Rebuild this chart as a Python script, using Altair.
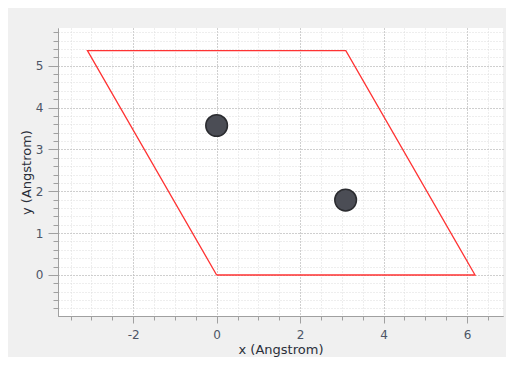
import altair as alt
import pandas as pd

# unit cell outline (closed path)
cell_x = [0.0, 6.19, 3.095, -3.095, 0.0]
cell_y = [0.0, 0.0, 5.36, 5.36, 0.0]
cell_order = [0, 1, 2, 3, 4]

# atoms
atom_x = [0.0, 3.09]
atom_y = [3.57, 1.79]

x_major = [-2, 0, 2, 4, 6]
y_major = [0, 1, 2, 3, 4, 5]
x_minor = [-3.5, -3, -2.5, -2, -1.5, -1, -0.5, 0, 0.5, 1, 1.5, 2, 2.5, 3, 3.5, 4, 4.5, 5, 5.5, 6, 6.5]
y_minor = [-0.8, -0.6, -0.4, -0.2, 0, 0.2, 0.4, 0.6, 0.8, 1, 1.2, 1.4, 1.6, 1.8, 2, 2.2, 2.4, 2.6, 2.8, 3,
           3.2, 3.4, 3.6, 3.8, 4, 4.2, 4.4, 4.6, 4.8, 5, 5.2, 5.4, 5.6, 5.8]

x_domain = [-3.8, 6.86]
y_domain = [-0.98, 5.9]

cell = pd.DataFrame({"x": cell_x, "y": cell_y, "o": cell_order})
atoms = pd.DataFrame({"x": atom_x, "y": atom_y})

FONT = "DejaVu Sans"
AX_COL = "#a0a0a0"
LBL_COL = "#4d5566"

xs = alt.Scale(domain=x_domain, nice=False, zero=False)
ys = alt.Scale(domain=y_domain, nice=False, zero=False)

minor_x_axis = alt.Axis(orient="bottom", values=x_minor, labels=False, tickSize=4, tickColor=AX_COL,
                        domainColor=AX_COL, grid=True, gridColor="#dcdcdc",
                        gridDash=[1, 2], title=None)
minor_y_axis = alt.Axis(orient="left", values=y_minor, labels=False, tickSize=5, tickColor=AX_COL,
                        domainColor=AX_COL, grid=True, gridColor="#dcdcdc",
                        gridDash=[1, 2], title=None)
major_x_axis = alt.Axis(orient="bottom", values=x_major, tickSize=7, tickColor=AX_COL, domainColor=AX_COL,
                        grid=True, gridColor="#b0b0b0", gridDash=[1, 2],
                        labelFont=FONT, labelFontSize=12, labelColor=LBL_COL, labelPadding=6,
                        labelExpr="toString(datum.value)",
                        title="x (Angstrom)", titleFont=FONT, titleFontSize=13,
                        titleFontWeight="normal", titleColor="#2a2f3a", titlePadding=3)
major_y_axis = alt.Axis(orient="left", values=y_major, tickSize=10, tickColor=AX_COL, domainColor=AX_COL,
                        grid=True, gridColor="#b0b0b0", gridDash=[1, 2],
                        labelFont=FONT, labelFontSize=12, labelColor=LBL_COL, labelPadding=5,
                        labelExpr="toString(datum.value)",
                        title="y (Angstrom)", titleFont=FONT, titleFontSize=13,
                        titleFontWeight="normal", titleColor="#2a2f3a", titlePadding=2)

line = alt.Chart(cell).mark_line(color="#ff3333", strokeWidth=1.3).encode(
    x=alt.X("x:Q", scale=xs, axis=minor_x_axis),
    y=alt.Y("y:Q", scale=ys, axis=minor_y_axis),
    order="o:O",
)

pts = alt.Chart(atoms).mark_circle(size=470, opacity=1, fill="#4b4d55",
                                   stroke="#2b2c30", strokeWidth=1.5).encode(
    x=alt.X("x:Q", scale=xs, axis=major_x_axis),
    y=alt.Y("y:Q", scale=ys, axis=major_y_axis),
)

chart = alt.layer(line, pts).resolve_axis(x="independent", y="independent").properties(
    width=445, height=288,
    background="#f0f0f0",
    padding={"left": 50, "top": 20, "right": 3, "bottom": 41},
    autosize=alt.AutoSizeParams(type="none"),
).configure_view(fill="white", stroke=None)

chart.save("out.html", embed_options={"renderer": "svg", "actions": False})
